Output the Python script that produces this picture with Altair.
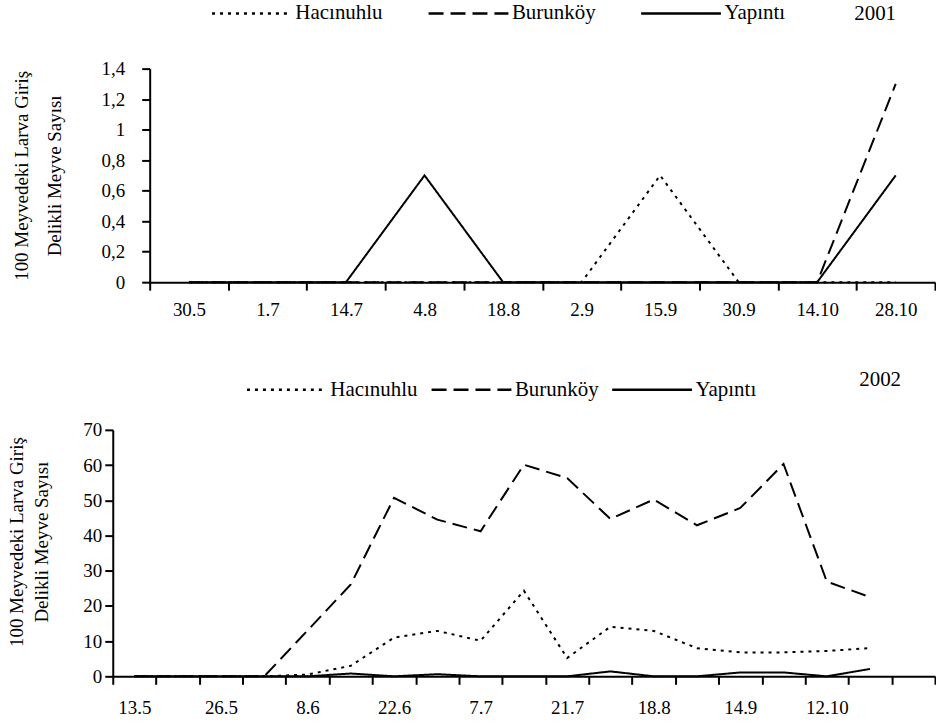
import altair as alt
import pandas as pd

FONT = "Liberation Serif"

series = ["Hacınuhlu", "Burunköy", "Yapıntı"]
dash_styles = [[3, 5], [15, 7], [1, 0]]

# 2001
dates_2001 = ["30.5", "1.7", "14.7", "4.8", "18.8", "2.9", "15.9", "30.9", "14.10", "28.10"]
hac_2001 = [0, 0, 0, 0, 0, 0, 0.7, 0, 0, 0]
bur_2001 = [0, 0, 0, 0, 0, 0, 0, 0, 0, 1.3]
yap_2001 = [0, 0, 0, 0.7, 0, 0, 0, 0, 0, 0.7]

# 2002 (19 slots on the axis, labels on every other slot)
labels_2002 = ["13.5", "", "26.5", "", "8.6", "", "22.6", "", "7.7", "",
               "21.7", "", "18.8", "", "14.9", "", "12.10", "", ""]
hac_2002 = [0, 0, 0, 0, 0.5, 3.0, 11.0, 12.9, 10.1, 24.3, 5.2, 14.1, 12.9, 8.0, 6.8, 6.8, 7.2, 8.0]
bur_2002 = [0, 0, 0, 0, 13.0, 26.1, 50.7, 44.5, 41.2, 60.1, 56.3, 44.7, 50.2, 42.9, 47.8, 60.3, 26.9, 22.5]
yap_2002 = [0, 0, 0, 0, 0, 0.8, 0, 0.6, 0, 0, 0, 1.4, 0, 0, 1.1, 1.1, 0, 2.1]

y_title = ["100 Meyvedeki Larva Giriş", "Delikli Meyve Sayısı"]

rows1 = []
for name, vals in zip(series, [hac_2001, bur_2001, yap_2001]):
    for d, v in zip(dates_2001, vals):
        rows1.append({"date": d, "series": name, "value": v})
df1 = pd.DataFrame(rows1)

rows2 = []
for name, vals in zip(series, [hac_2002, bur_2002, yap_2002]):
    for i, v in enumerate(vals):
        rows2.append({"slot": i + 1, "series": name, "value": v})
df2 = pd.DataFrame(rows2)


def dash(legend_x, legend_y, col_pad):
    return alt.StrokeDash(
        "series:N",
        scale=alt.Scale(domain=series, range=dash_styles),
        legend=alt.Legend(
            title=None, orient="none", direction="horizontal",
            legendX=legend_x, legendY=legend_y,
            # long flat line symbol (80 px) with a low row height
            symbolType="M-1,0H9", symbolSize=256, symbolStrokeWidth=2.5,
            symbolStrokeColor="black",
            labelFont=FONT, labelFontSize=21, labelColor="black",
            labelOffset=65, columnPadding=col_pad, padding=0, labelLimit=0,
        ),
    )


SHIFT = 37  # top panel's plot starts further right than the lower one

top = alt.Chart(df1).mark_line(color="black", strokeWidth=2).encode(
    x=alt.X(
        "date:O",
        sort=dates_2001,
        bandPosition=0.5,
        scale=alt.Scale(type="band", domain=dates_2001, range=[SHIFT, 824],
                        paddingInner=0, paddingOuter=0),
        axis=alt.Axis(title=None, tickBand="extent", labelAngle=0, labelPadding=10,
                      labelFontSize=19),
    ),
    y=alt.Y(
        "value:Q",
        scale=alt.Scale(domain=[0, 1.4], nice=False),
        axis=alt.Axis(values=[0, 0.2, 0.4, 0.6, 0.8, 1, 1.2, 1.4], format="~g",
                      labelExpr="replace(datum.label, '.', ',')",
                      offset=-SHIFT,
                      title=y_title, titleLineHeight=33, titlePadding=37,
                      labelPadding=17, labelFontSize=19),
    ),
    strokeDash=dash(97, -66, 40),
).properties(
    width=824, height=214,
    title=alt.TitleParams("2001", anchor="end", dx=-40, offset=-21, font=FONT,
                          fontSize=21, fontWeight="normal", color="black"),
)

bottom = alt.Chart(df2).mark_line(color="black", strokeWidth=2).encode(
    x=alt.X(
        "slot:O",
        bandPosition=0.5,
        scale=alt.Scale(type="band", domain=list(range(1, len(labels_2002) + 1)),
                        paddingInner=0, paddingOuter=0),
        axis=alt.Axis(title=None, tickBand="extent", labelAngle=0, labelPadding=14,
                      labelFontSize=19,
                      labelExpr=str(labels_2002) + "[datum.value - 1]"),
    ),
    y=alt.Y(
        "value:Q",
        scale=alt.Scale(domain=[0, 70], nice=False),
        axis=alt.Axis(values=[0, 10, 20, 30, 40, 50, 60, 70], title=y_title,
                      titleLineHeight=25, titlePadding=31, titleY=112,
                      labelPadding=3, labelFontSize=19),
    ),
    strokeDash=dash(132, -51, 8),
).properties(
    width=824, height=247,
    title=alt.TitleParams("2002", anchor="end", dx=-35, offset=-11, font=FONT,
                          fontSize=21, fontWeight="normal", color="black"),
)

chart = alt.vconcat(top, bottom, spacing=50).resolve_legend(
    strokeDash="independent"
).properties(
    padding={"left": 8, "top": 2, "right": 0, "bottom": 0},
    background="white",
).configure_view(stroke=None).configure_axis(
    domainColor="black", domainWidth=2, tickColor="black", tickWidth=2, tickSize=8,
    labelFont=FONT, labelColor="black", grid=False,
    titleFont=FONT, titleFontSize=19, titleFontWeight="normal", titleColor="black",
)

chart.save("out.html", embed_options={"renderer": "svg", "actions": False})
